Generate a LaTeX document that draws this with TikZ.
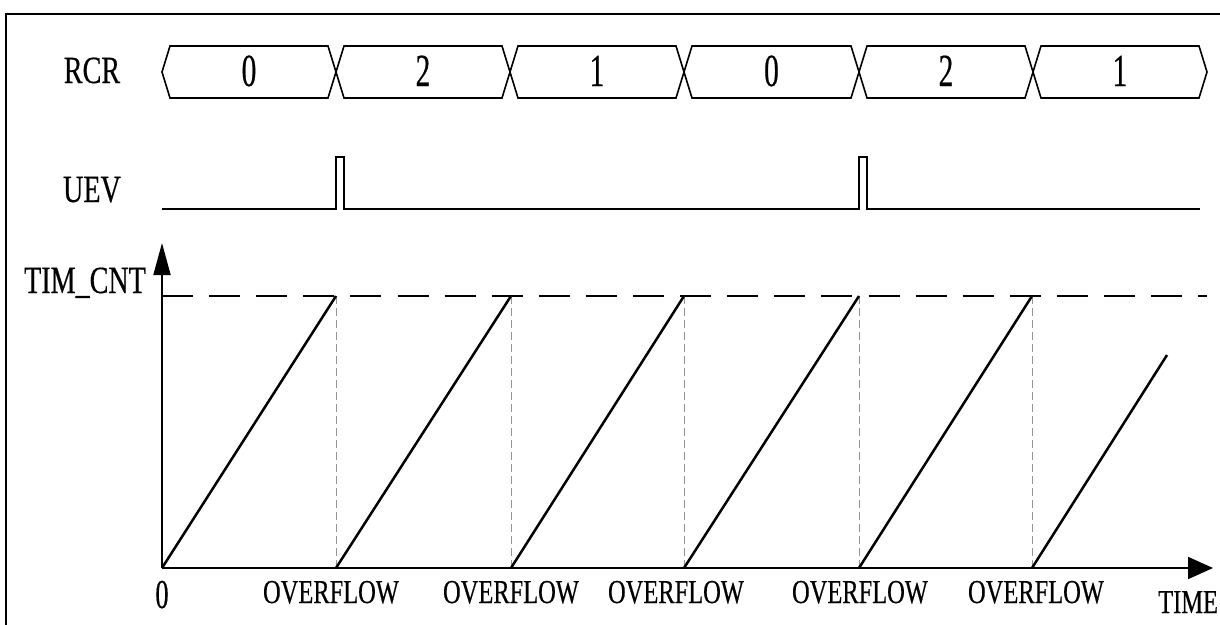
\documentclass[tikz,border=0pt]{standalone}
\usepackage{fontspec}
\setmainfont{Liberation Serif}[FakeStretch=0.73,FakeBold=0.4]
\newfontfamily\digitfont{Liberation Serif}[FakeStretch=0.64,FakeBold=0.4]
\usetikzlibrary{arrows.meta}
\tikzset{
    sig/.style={line width=1.6pt,line join=miter},
    ramp/.style={line width=2.5pt},
    axis/.style={line width=1.8pt},
    lbl/.style={anchor=base,inner sep=0pt,font=\fontsize{38.5}{40}\selectfont},
    digit/.style={anchor=base,inner sep=0pt,font=\digitfont\fontsize{46}{48}\selectfont},
    tick/.style={anchor=base,inner sep=0pt,font=\fontsize{33.5}{36}\selectfont},
    ovl/.style={draw=gray!85,line width=0.8pt,dash pattern=on 8pt off 4pt},
    toplvl/.style={line width=2pt,dash pattern=on 31pt off 16.1pt}
}

\begin{document}
\begin{tikzpicture}[x=1pt,y=-1pt]
\clip (0,0) rectangle (1220,624);
\draw[line width=2pt] (6,14) rectangle (1260,680);

% signal names
\node[lbl] (rcr) at (92,83) {RCR};
\node[lbl] (uev) at (92,202) {UEV};
\node[lbl] (cnt) at (85,293) {TIM\_CNT};

% RCR bus
\foreach \a/\b/\v [count=\i] in {162/336/0,336/510/2,510/684/1,684/859/0,859/1033/2,1033/1207/1}{
    \draw[sig] (\a,72) -- (\a+8,46) -- (\b-8,46) -- (\b,72) -- (\b-8,98) -- (\a+8,98) -- cycle;
    \node[digit] (rcr\i) at ({(\a+\b)/2},86) {\v};
}

% UEV pulses
\draw[sig] (162,209) -- (336,209) -- (336,157) -- (344,157) -- (344,209)
    -- (859,209) -- (859,157) -- (867,157) -- (867,209) -- (1200,209);

% counter axes
\coordinate (o) at (162,568);
\coordinate (ytip) at (162,243);
\coordinate (xtip) at (1213,568);
\draw[axis,-{Triangle[length=32pt,width=17pt]}] (o) -- (ytip);
\draw[axis,-{Triangle[length=25pt,width=22pt]}] (o) -- (xtip);
\draw[toplvl] (162,296) -- (1207,296);

% sawtooth
\coordinate (b0) at (162,568);
\foreach \x [count=\i] in {336,511,684,859,1032}{
    \coordinate (t\i) at (\x,296);
    \coordinate (b\i) at (\x,568);
    \draw[ovl] (t\i) -- (b\i);
}
\foreach \i [evaluate=\i as \j using int(\i-1)] in {1,...,5}{
    \draw[ramp] (b\j) -- (t\i);
}
\coordinate (tend) at (1167,355);
\draw[ramp] (b5) -- (tend);

% time labels
\node[digit,font=\digitfont\fontsize{41}{44}\selectfont] (zero) at (162,608) {0};
\foreach \x [count=\i] in {331,511,676,860,1036}{
    \node[tick] (ovf\i) at (\x,603) {OVERFLOW};
}
\node[tick,anchor=base west] (time) at (1158,613) {TIME};
\end{tikzpicture}
\end{document}
